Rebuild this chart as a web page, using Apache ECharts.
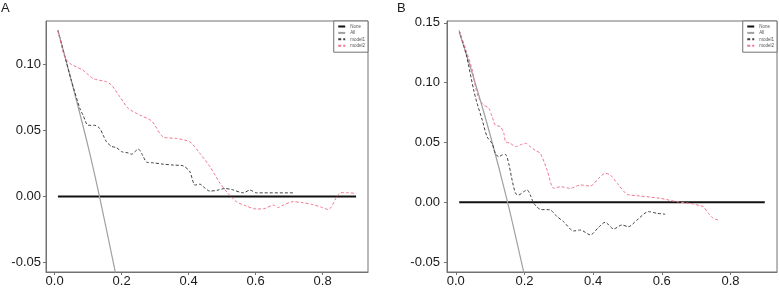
<!DOCTYPE html>
<html>
<head>
<meta charset="utf-8">
<script src="https://cdn.jsdelivr.net/npm/echarts@6/dist/echarts.min.js"></script>
<style>
  html, body { margin: 0; padding: 0; background: #fff; }
  #chart { width: 779px; height: 291px; }
</style>
</head>
<body>
<div id="chart"></div>
<script>
// tick labels
const xTicks = [0, 0.2, 0.4, 0.6, 0.8]
const yTicksA = [-0.05, 0, 0.05, 0.10]
const yTicksB = [-0.05, 0, 0.05, 0.10, 0.15]
const legendNames = ['None', 'All', 'model1', 'model2']

// panel A  [threshold, net benefit]
const noneA = [[0.01, 0], [0.9, 0]]
const allA = [[0.01, 0.126], [0.05, 0.088], [0.1, 0.038], [0.134, 0], [0.18, -0.056], [0.2, -0.082]]
const model1A = [
  [0.01, 0.126], [0.03, 0.107], [0.05, 0.088], [0.0755, 0.0668], [0.085, 0.0617], [0.1, 0.054],
  [0.12, 0.054], [0.135, 0.0516], [0.145, 0.0465], [0.155, 0.0415], [0.17, 0.038], [0.185, 0.037],
  [0.2, 0.034], [0.22, 0.033], [0.23, 0.032], [0.24, 0.034], [0.25, 0.036], [0.26, 0.0326],
  [0.275, 0.026], [0.295, 0.0255], [0.324, 0.0245], [0.354, 0.0238], [0.384, 0.0232],
  [0.404, 0.0187], [0.419, 0.0086], [0.434, 0.0093], [0.444, 0.0073], [0.464, 0.004],
  [0.488, 0.0048], [0.508, 0.006], [0.528, 0.0053], [0.563, 0.0027], [0.583, 0.0048],
  [0.603, 0.0027], [0.712, 0.0027]
]
const model2A = [
  [0.01, 0.126], [0.03, 0.106], [0.046, 0.1009], [0.085, 0.0958], [0.115, 0.0895], [0.155, 0.087],
  [0.17, 0.0845], [0.195, 0.0756], [0.22, 0.0668], [0.255, 0.0617], [0.29, 0.0572],
  [0.324, 0.0452], [0.364, 0.044], [0.404, 0.0414], [0.434, 0.0326], [0.464, 0.0225],
  [0.494, 0.0099], [0.518, 0.0023], [0.543, -0.0041], [0.573, -0.0074], [0.603, -0.0096],
  [0.628, -0.0091], [0.653, -0.0066], [0.668, -0.0084], [0.682, -0.0066], [0.712, -0.004],
  [0.742, -0.0048], [0.772, -0.0063], [0.797, -0.0083], [0.817, -0.0099], [0.827, -0.0078],
  [0.842, -0.0003], [0.854, 0.0028], [0.872, 0.0028], [0.9, 0.0023]
]

// panel B
const noneB = [[0.01, 0], [0.9, 0]]
const allB = [[0.01, 0.1424], [0.05, 0.106], [0.1, 0.0565], [0.151, 0], [0.198, -0.0586], [0.22, -0.088]]
const model1B = [
  [0.01, 0.1435], [0.03, 0.124], [0.052, 0.094], [0.062, 0.0828], [0.077, 0.0688], [0.091, 0.0549],
  [0.106, 0.049], [0.115, 0.041], [0.125, 0.038], [0.135, 0.0396], [0.145, 0.04], [0.154, 0.0326],
  [0.164, 0.0187], [0.174, 0.0075], [0.183, 0.0061], [0.198, 0.0089], [0.208, 0.0103],
  [0.217, 0.0061], [0.227, -0.0008], [0.246, -0.0059], [0.275, -0.0064], [0.295, -0.012],
  [0.314, -0.0162], [0.343, -0.024], [0.363, -0.0232], [0.392, -0.0273], [0.416, -0.0209],
  [0.435, -0.0167], [0.46, -0.0223], [0.484, -0.019], [0.503, -0.0204], [0.528, -0.0148],
  [0.561, -0.0078], [0.586, -0.0092], [0.61, -0.01]
]
const model2B = [
  [0.01, 0.1435], [0.03, 0.127], [0.048, 0.1106], [0.057, 0.0967], [0.067, 0.087], [0.081, 0.0814],
  [0.096, 0.0786], [0.106, 0.0716], [0.115, 0.0646], [0.13, 0.0632], [0.14, 0.0577],
  [0.145, 0.0507], [0.159, 0.0493], [0.174, 0.0465], [0.188, 0.048], [0.203, 0.0493],
  [0.217, 0.0465], [0.232, 0.0432], [0.246, 0.041], [0.266, 0.027], [0.285, 0.0117],
  [0.305, 0.013], [0.334, 0.0117], [0.363, 0.0145], [0.392, 0.0136], [0.416, 0.02],
  [0.435, 0.0242], [0.45, 0.0228], [0.474, 0.0145], [0.499, 0.0067], [0.537, 0.0053],
  [0.595, 0.0033], [0.644, 0.0005], [0.692, -0.0014], [0.712, -0.003], [0.721, -0.0036],
  [0.736, -0.0092], [0.75, -0.0134], [0.77, -0.0153]
]

const font = 'Liberation Sans, Arial, sans-serif'
const frame = '#727272'

function xAxisFor(gridIndex) {
  return {
    type: 'value', gridIndex, min: -0.0256, max: 0.9356,
    axisLine: { show: true, onZero: false, lineStyle: { color: frame, width: 1 } },
    axisTick: { show: true, inside: false, length: 3, customValues: xTicks, lineStyle: { color: frame } },
    axisLabel: {
      customValues: xTicks, margin: 3, color: '#1a1a1a', fontSize: 13, fontFamily: font,
      formatter: (v) => v.toFixed(1),
    },
    splitLine: { show: false },
  }
}

function yAxisFor(gridIndex, min, max, ticks, margin) {
  return {
    type: 'value', gridIndex, min, max,
    axisLine: { show: true, onZero: false, lineStyle: { color: frame, width: 1 } },
    axisTick: { show: true, inside: false, length: 3, customValues: ticks, lineStyle: { color: frame } },
    axisLabel: {
      customValues: ticks, margin, color: '#1a1a1a', fontSize: 13, fontFamily: font,
      formatter: (v) => v.toFixed(2),
    },
    splitLine: { show: false },
  }
}

const hidden = 'rgba(0,0,0,0)'

function seriesFor(idx, none, all, m1, m2) {
  return [
    { name: 'None', type: 'line', xAxisIndex: idx, yAxisIndex: idx, data: none, symbol: 'none',
      lineStyle: { color: '#111', width: 2 }, itemStyle: { color: hidden } },
    { name: 'All', type: 'line', xAxisIndex: idx, yAxisIndex: idx, data: all, symbol: 'none', smooth: 0.3,
      lineStyle: { color: '#a0a0a0', width: 1.2 }, itemStyle: { color: hidden } },
    { name: 'model1', type: 'line', xAxisIndex: idx, yAxisIndex: idx, data: m1, symbol: 'none', smooth: 0.25,
      lineStyle: { color: '#404040', width: 1, type: [3, 2] }, itemStyle: { color: hidden } },
    { name: 'model2', type: 'line', xAxisIndex: idx, yAxisIndex: idx, data: m2, symbol: 'none', smooth: 0.25,
      lineStyle: { color: '#f07892', width: 1, type: [3, 2] }, itemStyle: { color: hidden } },
  ]
}

function legendFor(right) {
  return {
    data: legendNames, orient: 'vertical', right, top: 21,
    padding: [3, 3, 4, 3.5], itemGap: 1.4, itemWidth: 7, itemHeight: 4,
    borderColor: frame, borderWidth: 1, backgroundColor: '#fff',
    textStyle: { fontSize: 4.5, color: '#555', fontFamily: font },
    selectedMode: false,
  }
}

const chart = echarts.init(document.getElementById('chart'), null, { renderer: 'canvas' })
chart.setOption({
  animation: false,
  backgroundColor: '#fff',
  title: [
    { text: 'A', left: 1, top: 2, padding: 0, textStyle: { fontSize: 13, fontWeight: 'normal', color: '#1a1a1a', fontFamily: font } },
    { text: 'B', left: 397, top: 2, padding: 0, textStyle: { fontSize: 13, fontWeight: 'normal', color: '#1a1a1a', fontFamily: font } },
  ],
  grid: [
    { left: 46, right: 411, top: 21, bottom: 19, show: true, borderColor: frame, borderWidth: 1, backgroundColor: 'transparent' },
    { left: 447, right: 2, top: 21, bottom: 19, show: true, borderColor: frame, borderWidth: 1, backgroundColor: 'transparent' },
  ],
  legend: [legendFor(411), legendFor(2)],
  xAxis: [xAxisFor(0), xAxisFor(1)],
  yAxis: [yAxisFor(0, -0.0574, 0.1332, yTicksA, 5), yAxisFor(1, -0.0583, 0.1516, yTicksB, 7)],
  series: [
    ...seriesFor(0, noneA, allA, model1A, model2A),
    ...seriesFor(1, noneB, allB, model1B, model2B),
  ],
})
</script>
</body>
</html>
